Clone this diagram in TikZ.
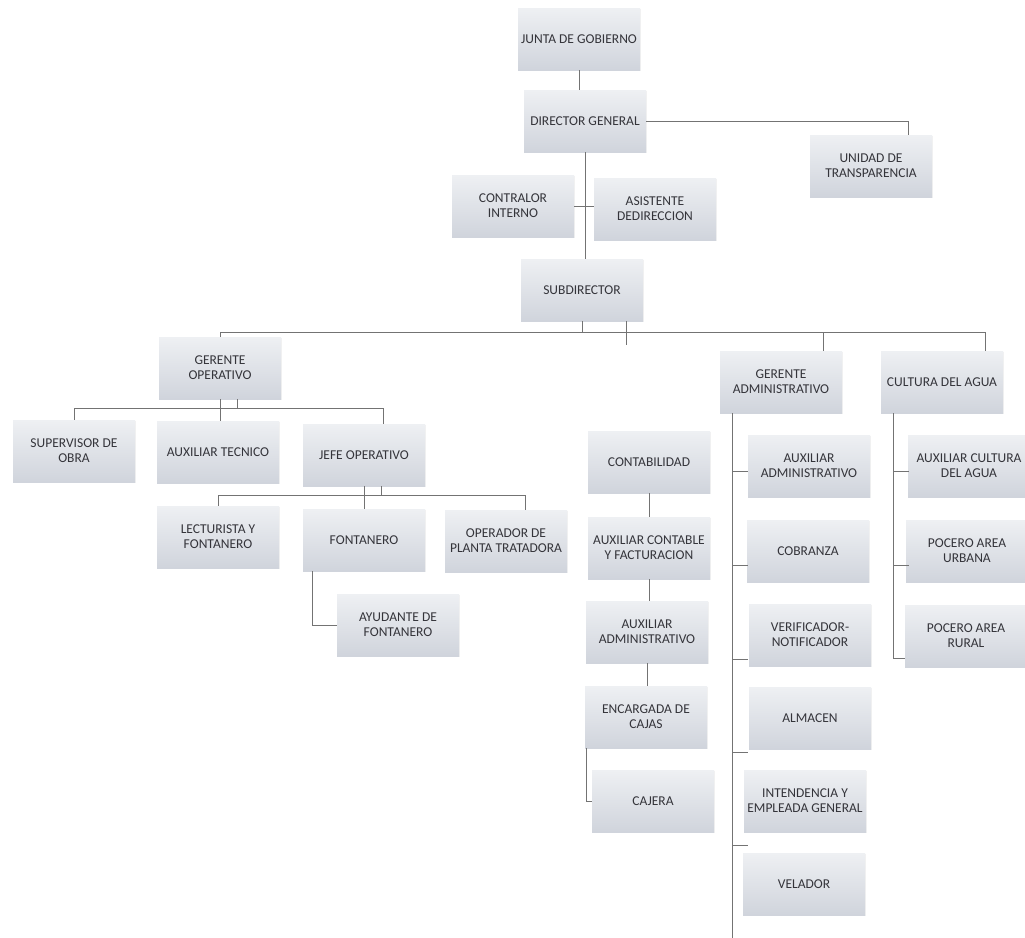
\documentclass[tikz,border=0pt]{standalone}
\usepackage{fontspec}
\setmainfont{Carlito}
\usetikzlibrary{shadows,calc}
\definecolor{boxtop}{RGB}{238,240,243}
\definecolor{boxbot}{RGB}{208,212,220}
\definecolor{ink}{RGB}{52,52,58}
\definecolor{wirec}{RGB}{115,115,115}
\begin{document}
\begin{tikzpicture}[x=0.5pt,y=-0.5pt,
  box/.style={rectangle,minimum width=61pt,minimum height=31pt,inner sep=1pt,align=center,
    top color=boxtop,bottom color=boxbot,text=ink,font=\fontsize{6.75}{7.5}\selectfont,
    drop shadow={shadow xshift=0.6pt,shadow yshift=-0.6pt,opacity=0.1}},
  wire/.style={draw=wirec,line width=0.5pt}]
\path[use as bounding box,fill=white] (0,0) rectangle (1025,938);
\foreach \n/\x/\y/\t in {jun/579/39/{JUNTA DE GOBIERNO},dir/585/121/{DIRECTOR GENERAL},
  uni/871/166/{UNIDAD DE\\TRANSPARENCIA},con/513/206/{CONTRALOR\\INTERNO},
  asi/655/209/{ASISTENTE\\DEDIRECCION},sub/582/290/{SUBDIRECTOR},
  gop/220/368/{GERENTE\\OPERATIVO},gad/781/382/{GERENTE\\ADMINISTRATIVO},
  cul/942/382/{CULTURA DEL AGUA},sup/74/451/{SUPERVISOR DE\\OBRA},
  aut/218/452/{AUXILIAR TECNICO},jop/364/455/{JEFE OPERATIVO},
  lec/218/537/{LECTURISTA Y\\FONTANERO},fon/364/540/{FONTANERO},
  ope/506/541/{OPERADOR DE\\PLANTA TRATADORA},ayu/398/625/{AYUDANTE DE\\FONTANERO},
  cnt/649/462/{CONTABILIDAD},acf/649/548/{AUXILIAR CONTABLE\\Y FACTURACION},
  aad/647/632/{AUXILIAR\\ADMINISTRATIVO},enc/646/717/{ENCARGADA DE\\CAJAS},
  caj/653/801/{CAJERA},ad1/809/466/{AUXILIAR\\ADMINISTRATIVO},cob/808/551/{COBRANZA},
  ver/810/635/{VERIFICADOR-\\NOTIFICADOR},alm/810/718/{ALMACEN},
  int/805/801/{INTENDENCIA Y\\EMPLEADA GENERAL},vel/804/884/{VELADOR},
  acu/969/466/{AUXILIAR CULTURA\\DEL AGUA},pur/967/551/{POCERO AREA\\URBANA},
  pru/966/636/{POCERO AREA\\RURAL}}
  \node[box] (\n) at (\x,\y) {\t};
\draw[wire] (jun.south) -- (jun.south |- dir.north);
\draw[wire] (dir.east) -| ($(uni.north)+(37,0)$);
\draw[wire] (dir.south) -- (dir.south |- sub.north);
\draw[wire] (con.east) -- (con.east -| asi.west);
\coordinate (bus) at (0,332);
\coordinate (stub) at (626,345);
\coordinate (gadd) at (823,351);
\coordinate (culd) at (985,351);
\draw[wire] (sub.south) -- (sub.south |- bus);
\draw[wire] (stub |- sub.south) -- (stub);
\draw[wire] (gop.north) |- (culd |- bus) -- (culd);
\draw[wire] (gadd |- bus) -- (gadd);
\coordinate (gobus) at (0,408);
\coordinate (jopd) at (383,424);
\draw[wire] (gop.south) -- (gop.south |- aut.north);
\draw[wire] ($(gop.south)+(17,0)$) -- ++(0,10);
\draw[wire] (sup.north) |- (jopd |- gobus) -- (jopd);
\coordinate (jobus) at (0,495);
\coordinate (oped) at (525,510);
\draw[wire] (jop.south) -- (jop.south |- fon.north);
\draw[wire] ($(jop.south)+(17,0)$) -- ++(0,9);
\draw[wire] (lec.north) |- (oped |- jobus) -- (oped);
\draw[wire] ($(fon.south west)+(10,0)$) |- (ayu.west);
\draw[wire] (cnt.south) -- (cnt.south |- acf.north);
\draw[wire] (acf.south) -- (acf.south |- aad.north);
\draw[wire] (aad.south) -- (aad.south |- enc.north);
\draw[wire] ($(enc.south west)+(2,0)$) |- (caj.west);
\coordinate (gaend) at (732,938);
\draw[wire] (gaend |- gad.south) -- (gaend);
\foreach \y in {471,565,659,752,845}
  \draw[wire] (gaend |- 0,\y) -- ++(16,0);
\coordinate (cuend) at (893,658);
\draw[wire] (cuend |- cul.south) -- (cuend) -- (cuend -| pru.west);
\foreach \y in {471,565}
  \draw[wire] (cuend |- 0,\y) -- ++(16,0);
\end{tikzpicture}
\end{document}
